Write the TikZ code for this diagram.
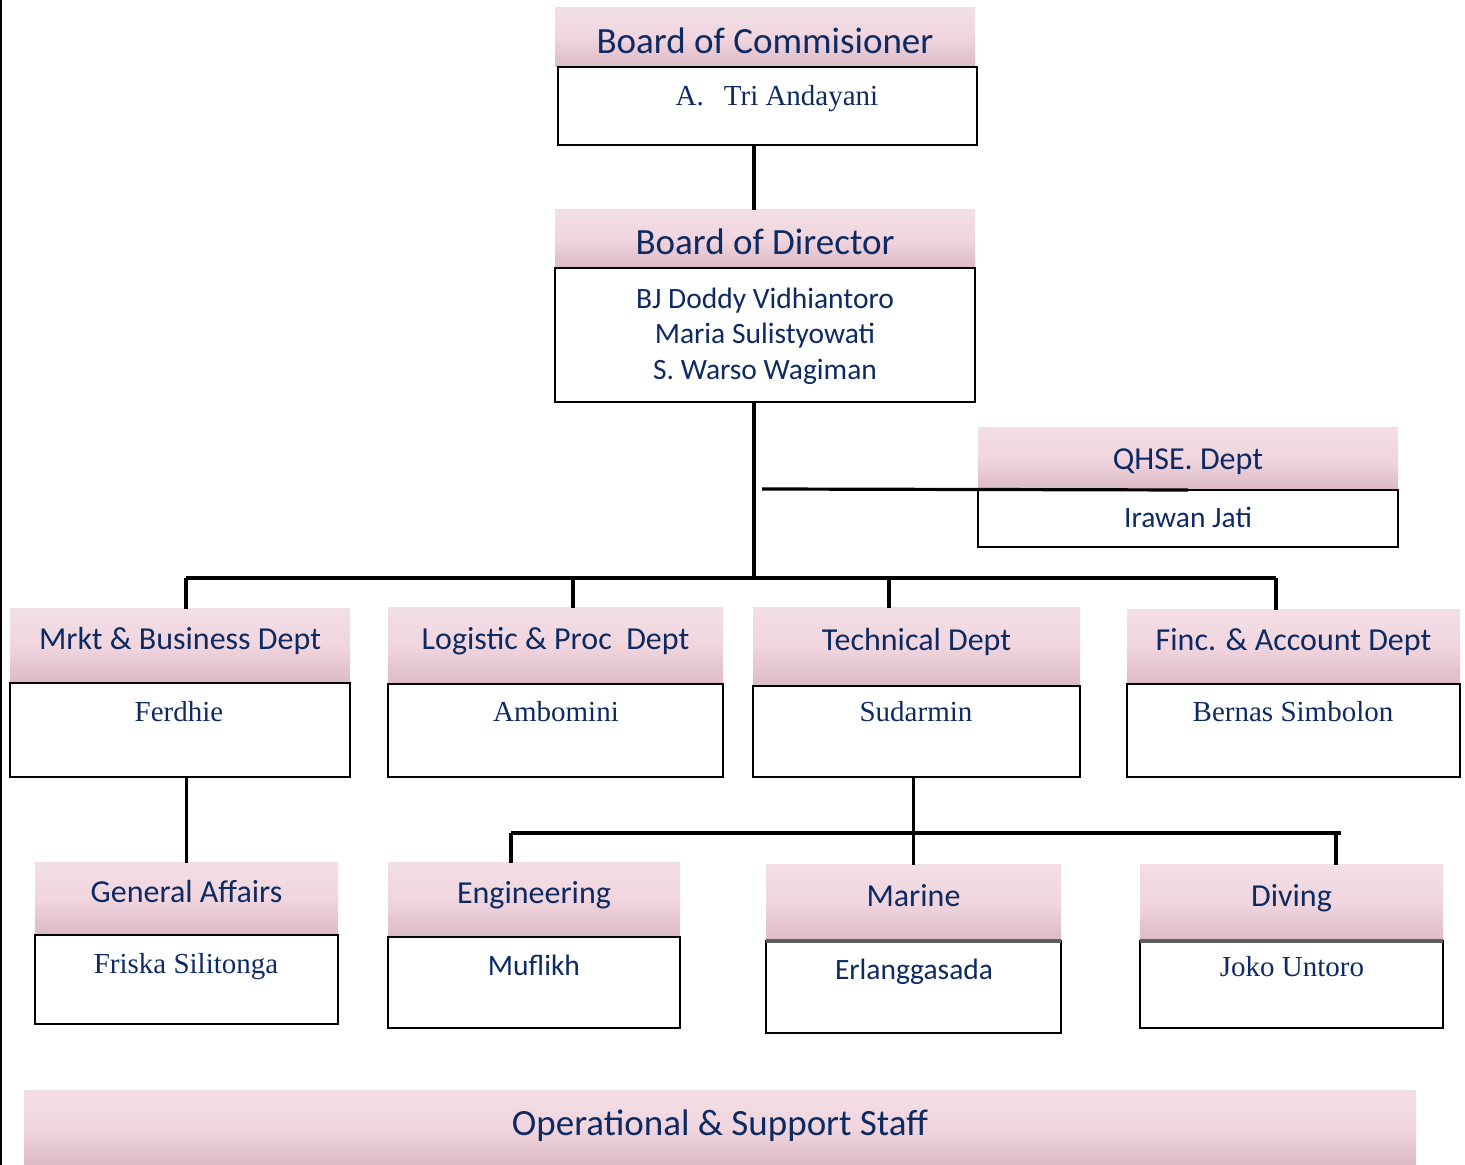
\documentclass[tikz,border=0pt]{standalone}
\usepackage{fontspec}
\setmainfont{Liberation Serif}
\setsansfont{Carlito}
\usepackage{tikz}
\usetikzlibrary{positioning}
\definecolor{navy}{RGB}{14,42,98}
\definecolor{pinkA}{RGB}{242,223,229}
\definecolor{pinkB}{RGB}{241,213,222}
\definecolor{pinkC}{RGB}{219,186,197}
\definecolor{rimgray}{RGB}{95,95,95}
\tikzset{
  hdr/.style={shade, top color=pinkA, bottom color=pinkC, middle color=pinkB,
    inner sep=0pt, outer sep=0pt, text=navy,
    font=\sffamily\fontsize{32}{37}\selectfont, text height=21pt, text depth=14pt},
  bighdr/.style={hdr, font=\sffamily\fontsize{37}{43}\selectfont, text height=32pt, text depth=0pt},
  box/.style={draw=black, line width=2pt, inner sep=0pt, outer sep=0pt},
  nm/.style={text=navy, font=\fontsize{29}{35}\selectfont, text height=19pt, text depth=0pt, inner sep=0pt},
  nmsf/.style={nm, font=\sffamily\fontsize{29.5}{35}\selectfont},
  conn/.style={line width=3.2pt}
}
\begin{document}
\begin{tikzpicture}[x=1pt, y=1pt]
            \useasboundingbox (0,0) rectangle (1465,1165);
            \draw[line width=2pt] (1,0) -- (1,1165);

            % headers
            \node[bighdr, minimum width=420pt, minimum height=59pt] (comH) at (765,1127.5) {Board of Commisioner};
            \node[bighdr, minimum width=420pt, minimum height=58pt] (dirH) at (765,926) {Board of Director};
            \node[hdr, text depth=0pt, minimum width=420pt, minimum height=62pt] (qhsH) at (1188,706) {QHSE. Dept};
            \node[hdr, minimum width=340pt, minimum height=74pt] (mrkH) at (180,519) {Mrkt \& Business Dept};
            \node[hdr, minimum width=335pt, minimum height=76pt] (logH) at (555.5,519) {Logistic \& Proc\ \ Dept};
            \node[hdr, minimum width=327pt, minimum height=78pt] (tecH) at (916.5,518) {Technical Dept};
            \node[hdr, minimum width=333pt, minimum height=74pt] (finH) at (1293.5,518) {Finc. \& Account Dept};
            \node[hdr, minimum width=303pt, minimum height=72pt] (genH) at (186.5,266) {General Affairs};
            \node[hdr, minimum width=292pt, minimum height=74pt] (engH) at (534,265) {Engineering};
            \node[hdr, minimum width=295pt, minimum height=76pt] (marH) at (913.5,262) {Marine};
            \node[hdr, minimum width=303pt, minimum height=76pt] (divH) at (1291.5,262) {Diving};
            \node[bighdr, text height=24pt, text depth=8pt, minimum width=1392pt, minimum height=74pt] (stfH) at (720,37) {Operational \& Support Staff};

            % boxes
            \node[box, minimum width=419pt, minimum height=78pt] (comB) at (767.5,1059) {};
            \node[box, minimum width=420pt, minimum height=134pt] (dirB) at (765,830) {};
            \node[box, minimum width=420pt, minimum height=57pt] (qhsB) at (1188,646.5) {};
            \node[box, minimum width=340pt, minimum height=94pt] (mrkB) at (180,435) {};
            \node[box, minimum width=335pt, minimum height=93pt] (logB) at (555.5,434.5) {};
            \node[box, minimum width=327pt, minimum height=91pt] (tecB) at (916.5,433.5) {};
            \node[box, minimum width=333pt, minimum height=93pt] (finB) at (1293.5,434.5) {};
            \node[box, minimum width=303pt, minimum height=89pt] (genB) at (186.5,185.5) {};
            \node[box, minimum width=292pt, minimum height=91pt] (engB) at (534,182.5) {};
            \node[box, minimum width=295pt, minimum height=92pt] (marB) at (913.5,178) {};
            \node[box, minimum width=303pt, minimum height=87pt] (divB) at (1291.5,180.5) {};
            \draw[line width=4pt, rimgray] (marB.north west) -- (marB.north east);
            \draw[line width=4pt, rimgray] (divB.north west) -- (divB.north east);

            % names
            \node[nm] (comN) at (777,1069) {A.\hspace{20pt}Tri Andayani};
            \node[text=navy, font=\sffamily\fontsize{29.5}{35.5}\selectfont, align=center, inner sep=0pt] (dirN) at (765,829)
                {BJ Doddy Vidhiantoro\\Maria Sulistyowati\\S. Warso Wagiman};
            \node[nmsf] (qhsN) at (1188,647) {Irawan Jati};
            \node[nm] (mrkN) at (179,453) {Ferdhie};
            \node[nm] (logN) at (556,453) {Ambomini};
            \node[nm] (tecN) at (916,453) {Sudarmin};
            \node[nm] (finN) at (1293,453) {Bernas Simbolon};
            \node[nm] (genN) at (186,201) {Friska Silitonga};
            \node[nmsf] (engN) at (534,199) {Muflikh};
            \node[nmsf] (marN) at (914,195) {Erlanggasada};
            \node[nm] (divN) at (1292,198) {Joko Untoro};

            % lines
            \coordinate (trunk) at (754,587);
            \draw[conn] (trunk |- comB.south) -- (trunk |- dirH.north);
            \draw[conn] (trunk |- dirB.south) -- (trunk);
            \coordinate (qhsJ) at (762,676);
            \draw[conn] (qhsJ) -- (qhsB.north);

            \coordinate (b1) at (186,587);
            \coordinate (b2) at (573,587);
            \coordinate (b3) at (889,587);
            \coordinate (b4) at (1276,587);
            \draw[conn] (b1) -- (b4);
            \draw[conn] (b1) -- (b1 |- mrkH.north);
            \draw[conn] (b2) -- (b2 |- logH.north);
            \draw[conn] (b3) -- (b3 |- tecH.north);
            \draw[conn] (b4) -- (b4 |- finH.north);

            \draw[conn] (genH.north) -- (genH.north |- mrkB.south);
            \draw[conn] (marH.north) -- (marH.north |- tecB.south);
            \coordinate (c1) at (511,332);
            \coordinate (c2) at (1341,332);
            \coordinate (c3) at (1336,332);
            \draw[conn] (c1) -- (c2);
            \draw[conn] (c1) -- (c1 |- engH.north);
            \draw[conn] (c3) -- (c3 |- divH.north);
\end{tikzpicture}
\end{document}
